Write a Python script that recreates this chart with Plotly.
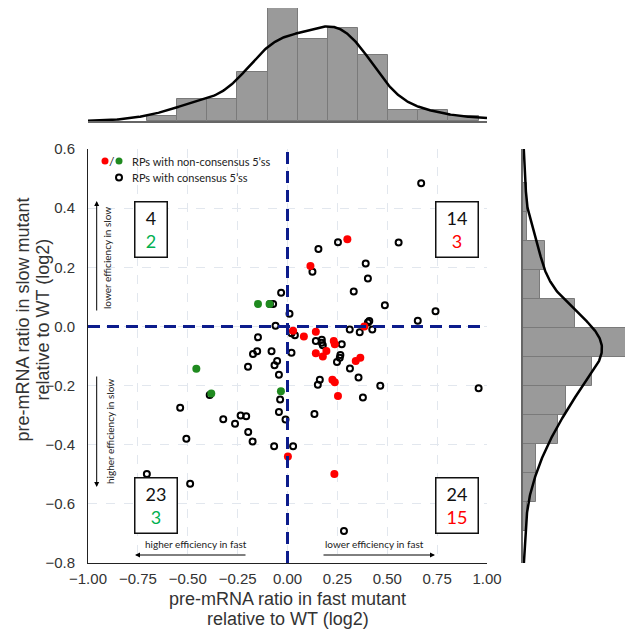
import numpy as np
import plotly.graph_objects as go

# ---------------- data (log2 pre-mRNA ratios) ----------------
# RPs with consensus 5'ss (open black circles)
black_x = [0.67, 0.253, 0.557, 0.155, 0.125, 0.392, 0.403, 0.332, 0.488, 0.742,
           0.653, 0.41, 0.403, 0.01,
           -0.032, -0.072, -0.06, -0.088,
           -0.08, -0.148, -0.152, -0.173, -0.198, -0.052, -0.065, -0.043, -0.39,
           -0.037, -0.043, -0.01, -0.538, -0.322, -0.263, -0.235, -0.207, -0.197,
           -0.175, -0.507, -0.067, -0.705, -0.488,
           0.312, 0.362, 0.425, 0.02, 0.037, 0.142, 0.172, 0.172, 0.177, 0.272,
           0.265, 0.262, 0.248, 0.313, 0.356, 0.162, 0.152, 0.378, 0.465, 0.958,
           0.135, 0.02, 0.028, 0.283]
black_y = [0.484, 0.285, 0.284, 0.262, 0.185, 0.213, 0.162, 0.118, 0.072, 0.051,
           0.019, 0.018, 0.013, 0.043,
           0.114, 0.076, 0.002, 0.076,
           -0.084, -0.037, -0.084, -0.093, -0.136, -0.117, -0.131, -0.163, -0.232,
           -0.247, -0.289, -0.315, -0.275, -0.314, -0.329, -0.301, -0.304, -0.357,
           -0.389, -0.38, -0.405, -0.499, -0.532,
           -0.01, -0.02, -0.01, -0.023, -0.03, -0.049, -0.045, -0.055, -0.064, -0.06,
           -0.097, -0.106, -0.12, -0.142, -0.173, -0.18, -0.197, -0.24, -0.201, -0.209,
           -0.296, -0.089, -0.405, -0.692]

# RPs with non-consensus 5'ss, right side (red)
red_x = [0.30, 0.115, 0.385, 0.028, 0.082, 0.142, 0.232, 0.237, 0.142, 0.195,
         0.177, 0.342, 0.365, 0.225, 0.237, 0.253, 0.002, 0.235]
red_y = [0.295, 0.204, 0.0, -0.015, -0.034, -0.018, -0.049, -0.06, -0.091, -0.083,
         -0.102, -0.117, -0.106, -0.18, -0.189, -0.235, -0.44, -0.499]

# RPs with non-consensus 5'ss, left side (green)
green_x = [-0.148, -0.09, -0.457, -0.382, -0.033]
green_y = [0.076, 0.076, -0.143, -0.227, -0.219]

# quadrant counts shown in the boxes: [upper-left, upper-right, lower-left, lower-right]
quad_black = [4, 14, 23, 24]
quad_colored = [2, 3, 3, 15]

x_ticks = [-1.0, -0.75, -0.5, -0.25, 0.0, 0.25, 0.5, 0.75, 1.0]
y_ticks = [0.6, 0.4, 0.2, 0.0, -0.2, -0.4, -0.6, -0.8]

# ---------------- layout helpers ----------------
OFF = 8          # page body margin of the browser
W = H = 625      # figure size so that it ends at the window edge
def px(x):
    return min(1.0, max(0.0, (x - OFF) / W))
def py(y):
    return min(1.0, max(0.0, 1 - (y - OFF) / H))

all_x = np.array(black_x + red_x + green_x)
all_y = np.array(black_y + red_y + green_y)
N = len(all_x)

# marginal histograms (counts), equal bins from min to max
cx, ex = np.histogram(all_x, bins=11)
cy, ey = np.histogram(all_y, bins=12)
bwx = ex[1] - ex[0]
bwy = ey[1] - ey[0]

def kde(data, grid):
    sd = np.std(data, ddof=1)
    h = sd * len(data) ** (-1 / 5)
    z = (grid[:, None] - data[None, :]) / h
    return np.exp(-0.5 * z ** 2).sum(axis=1) / (len(data) * h * np.sqrt(2 * np.pi))

gx = np.linspace(-1.0, 1.0, 400)
gy = np.linspace(-0.8, 0.6, 400)
kx = kde(all_x, gx) * N * bwx
ky = kde(all_y, gy) * N * bwy

fig = go.Figure()

BAR = "#9a9a9a"
EDGE = "#7a7a7a"
# top histogram
fig.add_trace(go.Bar(x=(ex[:-1] + ex[1:]) / 2, y=cx, width=bwx,
                     marker=dict(color=BAR, line=dict(color=EDGE, width=1)),
                     xaxis="x2", yaxis="y2", showlegend=False, hoverinfo="skip"))
fig.add_trace(go.Scatter(x=gx, y=kx, mode="lines", line=dict(color="black", width=2.5),
                         xaxis="x2", yaxis="y2", showlegend=False, hoverinfo="skip"))
# right histogram
fig.add_trace(go.Bar(y=(ey[:-1] + ey[1:]) / 2, x=cy, width=bwy, orientation="h",
                     marker=dict(color=BAR, line=dict(color=EDGE, width=1)),
                     xaxis="x3", yaxis="y3", showlegend=False, hoverinfo="skip"))
fig.add_trace(go.Scatter(x=ky, y=gy, mode="lines", line=dict(color="black", width=2.5),
                         xaxis="x3", yaxis="y3", showlegend=False, hoverinfo="skip"))

# main scatter
fig.add_trace(go.Scatter(x=black_x, y=black_y, mode="markers", showlegend=False,
                         marker=dict(symbol="circle-open", size=6, color="black",
                                     line=dict(width=2, color="black"))))
fig.add_trace(go.Scatter(x=green_x, y=green_y, mode="markers", showlegend=False,
                         marker=dict(symbol="circle", size=8, color="#1f8a1f")))
fig.add_trace(go.Scatter(x=red_x, y=red_y, mode="markers", showlegend=False,
                         marker=dict(symbol="circle", size=8, color="#ff0000")))

NAVY = "#0c1c8c"
fig.add_vline(x=0, line=dict(color=NAVY, width=3, dash="12px,7px"))
fig.add_hline(y=0, line=dict(color=NAVY, width=3, dash="12px,7px"))

TICKFONT = dict(family="Liberation Sans, Arial, sans-serif", size=15, color="#333333")
GRID = "#e2e7ee"
TOP_HIST_PX = 121 - OFF   # available height of the top histogram (page y 8..121)
fig.update_layout(
    width=W, height=H, margin=dict(l=0, r=0, t=0, b=0, autoexpand=False),
    paper_bgcolor="white", plot_bgcolor="white",
    xaxis=dict(domain=[px(88), px(487)], range=[-1.0, 1.0], tickvals=x_ticks, tickformat=".2f",
               showline=True, linecolor="#222222", linewidth=1, zeroline=False,
               showgrid=True, gridcolor=GRID, griddash="dash", gridwidth=1, automargin=False,
               tickfont=TICKFONT, ticks="", ticklabelstandoff=2, anchor="y"),
    yaxis=dict(domain=[py(563), py(149)], range=[-0.8, 0.6], tickvals=y_ticks, tickformat=".1f",
               showline=True, linecolor="#222222", linewidth=1, zeroline=False,
               showgrid=True, gridcolor=GRID, griddash="dash", gridwidth=1, automargin=False,
               tickfont=TICKFONT, ticks="", ticklabelstandoff=9, anchor="x"),
    xaxis2=dict(domain=[px(88), px(487)], range=[-1.0, 1.0], anchor="y2", showticklabels=False,
                showgrid=False, zeroline=False, showline=True, linecolor="#666666", linewidth=1.5,
                ticks="", automargin=False),
    yaxis2=dict(domain=[py(121), 1.0], range=[0, 21 * TOP_HIST_PX / 114.7], anchor="x2", visible=False,
                automargin=False),
    xaxis3=dict(domain=[px(523), 1.0], range=[0, 24 * 110 / 104], anchor="y3", visible=False,
                automargin=False),
    yaxis3=dict(domain=[py(563), py(149)], range=[-0.8, 0.6], anchor="x3", showticklabels=False,
                showgrid=False, zeroline=False, showline=True, linecolor="#666666", linewidth=1.5,
                ticks="", automargin=False),
    bargap=0,
)

def note(x, y, text, font, angle=0, xanchor="center", **kw):
    d = dict(x=px(x), y=py(y), xref="paper", yref="paper", showarrow=False, text=text,
             font=font, textangle=angle, xanchor=xanchor, yanchor="middle")
    d.update(kw)
    return d

TITLEFONT = dict(family="Liberation Sans, Arial, sans-serif", size=18, color="#333333")
ann = []
ann.append(note(287.5, 598.5, "pre-mRNA ratio in fast mutant", TITLEFONT))
ann.append(note(287.5, 619, "relative to WT (log2)", TITLEFONT))
ann.append(note(22.5, 320, "pre-mRNA ratio in slow mutant", TITLEFONT, angle=-90))
ann.append(note(42.5, 320, "relative to WT (log2)", TITLEFONT, angle=-90))

SMALL = dict(family="Lato, Open Sans, sans-serif", size=10, color="#222222")
LEGF = dict(family="Lato, Open Sans, sans-serif", size=11, color="#222222")
# legend text
ann.append(note(130, 161, "RPs with non-consensus 5’ss", LEGF, xanchor="left"))
ann.append(note(130, 177.5, "RPs with consensus 5’ss", LEGF, xanchor="left"))
ann.append(note(112, 161, "/", dict(family="Lato, sans-serif", size=12, color="#222")))

# direction arrows and labels
for hx, hy, ax, ay in [(96.7, 201, 0, 111), (96.7, 487, 0, -112), (135, 555, 112, 0), (435, 555, -113, 0)]:
    ann.append(dict(x=px(hx), y=py(hy), xref="paper", yref="paper", ax=ax, ay=ay, showarrow=True,
                    arrowhead=2, arrowsize=1, arrowwidth=1, arrowcolor="black", text=""))
ann.append(note(107, 258, "lower efficiency in slow", SMALL, angle=-90))
ann.append(note(110, 432, "higher efficiency in slow", SMALL, angle=-90))
ann.append(note(196, 544, "higher efficiency in fast", SMALL))
ann.append(note(374, 544, "lower efficiency in fast", SMALL))

# quadrant count boxes
box_pos = [(151, 229, 27), (457, 229, 37), (156, 506, 37), (457, 506, 37)]
box_col = ["#00b050", "#ff0000", "#00b050", "#ff0000"]
for (bx, by, bw), nb, nc, col in zip(box_pos, quad_black, quad_colored, box_col):
    ann.append(note(bx, by, f"{nb}<br><span style='color:{col}'>{nc}</span>",
                    dict(family="Lato, Open Sans, sans-serif", size=18, color="#111"),
                    bordercolor="#111", borderwidth=1.5, borderpad=2, bgcolor="white",
                    width=bw, height=50, align="center", valign="middle"))
fig.update_layout(annotations=ann)

# legend symbols
shapes = [
    dict(type="circle", xref="paper", yref="paper", x0=px(101.5), x1=px(108.5), y0=py(164.5), y1=py(157.5),
         fillcolor="#ff0000", line=dict(width=0)),
    dict(type="circle", xref="paper", yref="paper", x0=px(115.5), x1=px(122.5), y0=py(164.5), y1=py(157.5),
         fillcolor="#1f8a1f", line=dict(width=0)),
    dict(type="circle", xref="paper", yref="paper", x0=px(116), x1=px(122), y0=py(180.5), y1=py(174.5),
         fillcolor="white", line=dict(width=2, color="black")),
]
for s in shapes:
    fig.add_shape(**s)

fig.write_html("out.html")
